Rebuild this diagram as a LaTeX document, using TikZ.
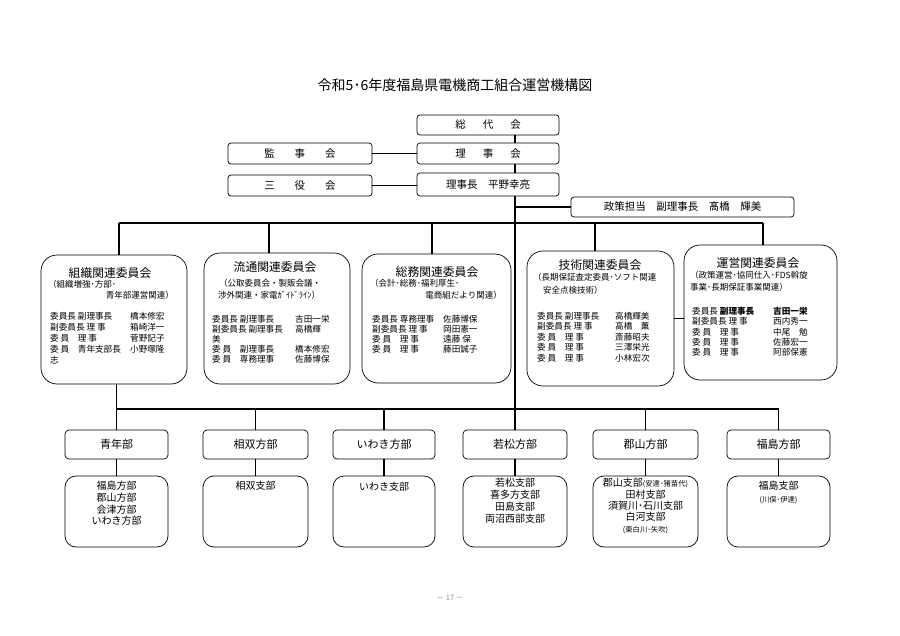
\documentclass[tikz,border=0pt]{standalone}
\usepackage{fontspec}
\setmainfont{Noto Sans CJK JP}
\usetikzlibrary{positioning}
\newcommand{\mr}[3]{\makebox[#1][l]{#2}#3}
\newcommand{\sm}[1]{{\fontsize{7.3}{8}\selectfont #1}}

\begin{document}
\begin{tikzpicture}[x=1pt,y=-1pt,
	every node/.style={inner sep=0pt},
	kbox/.style={draw,rounded corners=3pt,line width=0.7pt,font=\fontsize{10.5}{12}\selectfont},
	iinkai/.style={draw,rounded corners=16pt,line width=0.7pt},
	bubox/.style={draw,rounded corners=4pt,line width=0.7pt,minimum height=29,font=\fontsize{11}{12}\selectfont},
	shibu/.style={draw,rounded corners=11pt,line width=0.7pt,minimum height=71},
	sen/.style={line width=1.3pt},
	ititle/.style={font=\fontsize{11.8}{13}\selectfont},
	isub/.style={font=\fontsize{8.5}{10}\selectfont},
	ibody/.style={font=\fontsize{8.6}{#1}\selectfont,align=left,anchor=north west},
	stext/.style={font=\fontsize{10}{#1}\selectfont,align=center,anchor=north}]
			\useasboundingbox (0,0) rectangle (900,636);
			\node[font=\fontsize{14}{16}\selectfont] (title) at (455,85) {令和5･6年度福島県電機商工組合運営機構図};
			\node[kbox,minimum width=142,minimum height=20] (soudai) at (488,125) {総\hspace{17pt}代\hspace{17pt}会};
			\node[kbox,minimum width=142,minimum height=21] (rijikai) at (488,153.5) {理\hspace{17pt}事\hspace{17pt}会};
			\node[kbox,minimum width=144,minimum height=21] (kanji) at (300,153.5) {監\hspace{20pt}事\hspace{20pt}会};
			\node[kbox,minimum width=144,minimum height=21] (sanyaku) at (300,185.5) {三\hspace{20pt}役\hspace{20pt}会};
			\node[kbox,minimum width=142,minimum height=23] (rijicho) at (488,184.5) {理事長　平野幸亮};
			\node[kbox,minimum width=223,minimum height=20] (seisaku) at (682.5,207) {政策担当　副理事長　髙橋　輝美};
			\node[iinkai,minimum width=146,minimum height=129] (soshiki) at (114,319.5) {};
			\node[iinkai,minimum width=146,minimum height=131] (ryutsu) at (277,318.5) {};
			\node[iinkai,minimum width=149,minimum height=129] (somu) at (436.5,318.5) {};
			\node[iinkai,minimum width=147,minimum height=135] (gijutsu) at (600.5,318.5) {};
			\node[iinkai,minimum width=153,minimum height=135] (unei) at (760.5,312.5) {};
			\node[ititle] (soshiki-t) at (110,273) {組織関連委員会};
			\node[isub,anchor=west] (soshiki-s1) at (48,284) {（組織増強･方部･};
			\node[isub,anchor=east] (soshiki-s2) at (174,295) {青年部運営関連）};
			\node[ibody=11] (soshiki-b) at (50,312) {\mr{80pt}{委員長 副理事長}{橋本修宏}\\
				\mr{80pt}{副委員長 理 事}{箱崎洋一}\\
				\mr{80pt}{委 員　理 事}{菅野記子}\\
				\mr{80pt}{委 員　青年支部長}{小野塚隆}\\
				志};
			\node[ititle] (ryutsu-t) at (275,267) {流通関連委員会};
			\node[isub] (ryutsu-s1) at (270,283) {（公取委員会・製販会議・};
			\node[isub] (ryutsu-s2) at (269,295) {渉外関連・家電ｶﾞｲﾄﾞﾗｲﾝ）};
			\node[ibody=10] (ryutsu-b) at (212,315) {\mr{83pt}{委員長 副理事長}{吉田一栄}\\
				\mr{83pt}{副委員長 副理事長}{高橋輝}\\
				美\\
				\mr{83pt}{委 員　副理事長}{橋本修宏}\\
				\mr{83pt}{委 員　専務理事}{佐藤博保}};
			\node[ititle] (somu-t) at (437,272) {総務関連委員会};
			\node[isub,anchor=west] (somu-s1) at (370,283) {（会計･総務･福利厚生･};
			\node[isub,anchor=east] (somu-s2) at (502,295) {電商組だより関連）};
			\node[ibody=10] (somu-b) at (372,315) {\mr{71pt}{委員長 専務理事}{佐藤博保}\\
				\mr{71pt}{副委員長 理 事}{岡田憲一}\\
				\mr{71pt}{委 員　理 事}{遠藤 保}\\
				\mr{71pt}{委 員　理 事}{藤田誠子}};
			\node[ititle] (gijutsu-t) at (600,265) {技術関連委員会};
			\node[isub,anchor=west] (gijutsu-s1) at (533,277) {（長期保証査定委員･ソフト関連};
			\node[isub,anchor=west] (gijutsu-s2) at (543,290) {安全点検技術）};
			\node[ibody=10.5] (gijutsu-b) at (537,312) {\mr{78pt}{委員長 副理事長}{高橋輝美}\\
				\mr{78pt}{副委員長 理 事}{高橋　薫}\\
				\mr{78pt}{委 員　理 事}{斎藤昭夫}\\
				\mr{78pt}{委 員　理 事}{三澤栄光}\\
				\mr{78pt}{委 員　理 事}{小林宏次}};
			\node[ititle] (unei-t) at (758,263) {運営関連委員会};
			\node[isub,anchor=west] (unei-s1) at (690,275) {（政策運営･協同仕入･FDS斡旋};
			\node[isub,anchor=west] (unei-s2) at (690,287) {事業･長期保証事業関連）};
			\node[ibody=10.3] (unei-b) at (692,307) {\mr{81pt}{委員長 \bfseries 副理事長}{\bfseries 吉田一栄}\\
				\mr{81pt}{副委員長 理 事}{西内秀一}\\
				\mr{81pt}{委 員　理 事}{中尾　勉}\\
				\mr{81pt}{委 員　理 事}{佐藤宏一}\\
				\mr{81pt}{委 員　理 事}{阿部保憲}};
			\node[bubox,minimum width=103] (seinen) at (116.5,444.5) {青年部};
			\node[bubox,minimum width=105] (soso) at (255.5,444.5) {相双方部};
			\node[bubox,minimum width=102] (iwaki) at (384,444.5) {いわき方部};
			\node[bubox,minimum width=104] (wakamatsu) at (515,444.5) {若松方部};
			\node[bubox,minimum width=105] (koriyama) at (645.5,444.5) {郡山方部};
			\node[bubox,minimum width=103] (fukushima) at (778.5,444.5) {福島方部};
			\node[shibu,minimum width=103] (seinen-s) at (116.5,511.5) {};
			\node[shibu,minimum width=105] (soso-s) at (255.5,511.5) {};
			\node[shibu,minimum width=102] (iwaki-s) at (384,511.5) {};
			\node[shibu,minimum width=104] (wakamatsu-s) at (515,511.5) {};
			\node[shibu,minimum width=105] (koriyama-s) at (645.5,511.5) {};
			\node[shibu,minimum width=103] (fukushima-s) at (778.5,511.5) {};
			\node[stext=11.7] (seinen-l) at (116.5,481) {福島方部\\郡山方部\\会津方部\\いわき方部};
			\node[stext=12] (soso-l) at (255.5,481) {相双支部};
			\node[stext=12] (iwaki-l) at (384,482) {いわき支部};
			\node[stext=12] (wakamatsu-l) at (515,478) {若松支部\\喜多方支部\\田島支部\\両沼西部支部};
			\node[stext=11.4] (koriyama-l) at (645.5,478) {郡山支部\sm{(安達･猪苗代)}\\田村支部\\須賀川･石川支部\\白河支部\\\sm{(東白川･矢吹)}};
			\node[stext=13] (fukushima-l) at (778.5,481) {福島支部\\\sm{(川俣･伊達)}};
			\node[font=\fontsize{7.5}{8}\selectfont,text=black!45] (page) at (450,598) {－ 17 －};
			\coordinate (bus1) at (0,223);
			\coordinate (bus2) at (0,409);
			\coordinate (d1) at (119,223);
			\coordinate (d2) at (269,223);
			\coordinate (d3) at (432,223);
			\coordinate (d4) at (595,223);
			\coordinate (d5) at (763,223);
			\draw[sen] (soudai.south -| wakamatsu) -- (rijikai.north -| wakamatsu);
			\draw[sen] (rijikai.south -| wakamatsu) -- (rijicho.north -| wakamatsu);
			\draw[sen] (rijicho.south -| wakamatsu) -- (wakamatsu.north);
			\draw[sen] (kanji.east) -- (rijikai.west);
			\draw[sen] (sanyaku.east) -- (sanyaku.east -| rijicho.west);
			\draw[sen] (seisaku.west) -- (seisaku.west -| wakamatsu);
			\draw[sen] (d1) -- (d5);
			\draw[sen] (d1) -- (d1 |- soshiki.north);
			\draw[sen] (d2) -- (d2 |- ryutsu.north);
			\draw[sen] (d3) -- (d3 |- somu.north);
			\draw[sen] (d4) -- (d4 |- gijutsu.north);
			\draw[sen] (d5) -- (d5 |- unei.north);
			\draw[sen] (gijutsu.east) -- (gijutsu.east -| unei.west);
			\draw[sen] (soshiki.south -| seinen) -- (seinen.north);
			\draw[sen] (seinen |- bus2) -- (fukushima |- bus2);
			\foreach \b in {soso,iwaki,koriyama,fukushima}
				\draw[sen] (\b |- bus2) -- (\b.north);
			\foreach \b in {seinen,soso,iwaki,wakamatsu,koriyama,fukushima}
				\draw[sen] (\b.south) -- (\b-s.north);
\end{tikzpicture}
\end{document}
